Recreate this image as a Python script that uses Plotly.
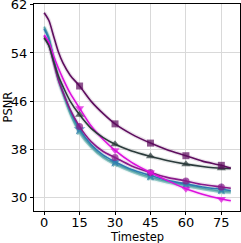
import plotly.graph_objects as go

timesteps = [0, 2, 4, 6, 8, 11, 15, 20, 25, 30, 37, 45, 52, 60, 67, 75, 79]

psnr_square = [60.7, 59.4, 56.8, 54.2, 52.3, 50.3, 48.5, 45.9, 43.9, 42.2, 40.5, 39.0, 37.9, 36.9, 36.0, 35.3, 34.8]
psnr_tri_up = [56.5, 55.2, 52.6, 50.2, 48.4, 46.0, 43.7, 41.4, 39.9, 38.8, 37.7, 36.8, 36.1, 35.5, 35.1, 34.8, 34.8]
psnr_tri_down = [57.0, 55.8, 53.5, 51.5, 49.7, 47.3, 44.8, 41.8, 39.6, 37.8, 35.8, 34.1, 32.8, 31.4, 30.5, 29.7, 29.4]
psnr_circle = [56.8, 55.3, 52.4, 49.5, 47.4, 44.6, 41.75, 39.2, 37.6, 36.6, 35.2, 34.1, 33.3, 32.7, 32.1, 31.7, 31.5]
psnr_star = [58.0, 56.3, 53.0, 49.8, 47.5, 44.4, 41.3, 38.7, 37.0, 35.9, 34.6, 33.6, 32.8, 32.2, 31.7, 31.3, 31.1]
psnr_x = [58.4, 56.6, 53.0, 49.6, 47.2, 44.0, 40.9, 38.4, 36.7, 35.6, 34.4, 33.3, 32.6, 32.0, 31.5, 31.0, 30.9]
psnr_teal2 = [58.2, 56.4, 52.8, 49.4, 47.0, 43.8, 40.6, 38.2, 36.5, 35.4, 34.2, 33.1, 32.4, 31.8, 31.3, 30.8, 30.7]

ytick_vals = [30, 38, 46, 54, 62]
xtick_vals = [0, 15, 30, 45, 60, 75]

series = [
    ("teal2", psnr_teal2, "#8cc4c2", "x-thin-open", 0),
    ("x", psnr_x, "#55a3a6", "x", 6),
    ("star", psnr_star, "#2c7bb0", "star", 9),
    ("circle", psnr_circle, "#8a1a8a", "circle", 7),
    ("tri_down", psnr_tri_down, "#dd10dd", "triangle-down", 8),
    ("tri_up", psnr_tri_up, "#2b3b3b", "triangle-up", 8),
    ("square", psnr_square, "#5e0d5e", "square", 7),
]

fig = go.Figure()
for name, ys, color, sym, msize in series:
    fig.add_trace(go.Scatter(
        x=timesteps, y=ys, mode="lines",
        line=dict(color=color, width=4, shape="spline", smoothing=0.8),
        opacity=0.12, hoverinfo="skip", showlegend=False))
for name, ys, color, sym, msize in series:
    sizes = [msize if (t % 15 == 0 and t > 0) else 0 for t in timesteps]
    fig.add_trace(go.Scatter(
        x=timesteps, y=ys, mode="lines+markers", name=name,
        line=dict(color=color, width=1.6, shape="spline", smoothing=0.8),
        marker=dict(symbol=sym, size=sizes, color=color, line=dict(width=0)),
        showlegend=False))

axis_common = dict(
    showline=True, linecolor="black", linewidth=1, mirror=True,
    ticks="outside", ticklen=3, tickcolor="black",
    showgrid=True, gridcolor="#d9d9d9", gridwidth=1, zeroline=False,
    automargin=False, ticklabeloverflow="allow",
    tickfont=dict(family="DejaVu Sans", size=13, color="black"),
)

fig.update_layout(
    width=241, height=243,
    margin=dict(l=34, r=1, t=4, b=32),
    paper_bgcolor="white", plot_bgcolor="white",
    xaxis=dict(range=[-4.3, 82.9], tickvals=xtick_vals, ticklabelstandoff=-4, **axis_common),
    yaxis=dict(range=[27.7, 62.15], tickvals=ytick_vals, **axis_common),
    annotations=[
        dict(text="Timestep", xref="paper", yref="paper", x=0.5, y=0,
             yanchor="middle", xanchor="center", yshift=-26, showarrow=False,
             font=dict(family="DejaVu Sans", size=11.5, color="black")),
        dict(text="PSNR", xref="paper", yref="paper", x=0, y=0.5,
             xanchor="center", yanchor="middle", xshift=-27, textangle=-90,
             showarrow=False,
             font=dict(family="DejaVu Sans", size=11.5, color="black")),
    ],
)

fig.write_html("out.html", config={"displayModeBar": False},
               post_script="document.body.style.margin='0px';document.body.style.overflow='hidden';")
